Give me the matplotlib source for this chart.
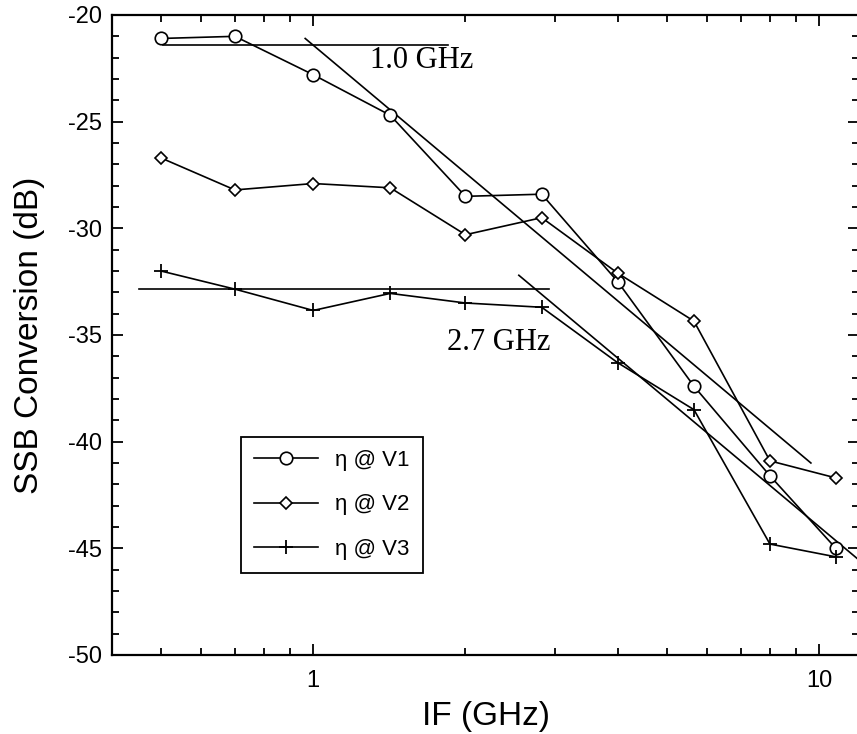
import numpy as np
import matplotlib
matplotlib.use("Agg")
import matplotlib.pyplot as plt
from matplotlib.ticker import FixedLocator, NullFormatter, FixedFormatter

plt.rcParams["axes.unicode_minus"] = False

# IF frequencies (GHz)
freq = [0.5, 0.7, 1.0, 1.42, 2.0, 2.83, 4.0, 5.66, 8.0, 10.8]

# SSB conversion (dB)
eta_v1 = [-21.1, -21.0, -22.8, -24.7, -28.5, -28.4, -32.5, -37.4, -41.6, -45.0]
eta_v2 = [-26.7, -28.2, -27.9, -28.1, -30.3, -29.5, -32.1, -34.35, -40.9, -41.7]
eta_v3 = [-32.0, -32.85, -33.85, -33.05, -33.5, -33.7, -36.3, -38.5, -44.8, -45.4]

series_labels = ["η @ V1", "η @ V2", "η @ V3"]

# roll-off guide lines (start/end points)
flat_1g_x = [0.505, 1.85]
flat_1g_y = [-21.4, -21.4]
slope_1g_x = [0.964, 9.64]
slope_1g_y = [-21.1, -41.0]
flat_27g_x = [0.452, 2.92]
flat_27g_y = [-32.85, -32.85]
slope_27g_x = [2.55, 12.5]
slope_27g_y = [-32.2, -45.9]

x_major = [1, 10]
x_major_labels = ["1", "10"]
x_minor = [0.5, 0.6, 0.7, 0.8, 0.9, 2, 3, 4, 5, 6, 7, 8, 9]

fig = plt.figure(figsize=(8.57, 7.34), dpi=100)
ax = fig.add_axes([112 / 857, 1 - 655 / 734, 747 / 857, 640 / 734])

ax.set_xscale("log")
ax.set_xlim(0.4, 12)
ax.set_ylim(-50, -20)

lw = 1.2
ax.plot(freq, eta_v1, color="black", lw=lw, marker="o", ms=9, mfc="white", mec="black", mew=1.2,
        label=series_labels[0], zorder=3)
ax.plot(freq, eta_v2, color="black", lw=lw, marker="D", ms=6.5, mfc="white", mec="black", mew=1.2,
        label=series_labels[1], zorder=3)
ax.plot(freq, eta_v3, color="black", lw=lw, marker="+", ms=10, mec="black", mew=1.3,
        label=series_labels[2], zorder=3)

for gx, gy in [(flat_1g_x, flat_1g_y), (slope_1g_x, slope_1g_y),
               (flat_27g_x, flat_27g_y), (slope_27g_x, slope_27g_y)]:
    ax.plot(gx, gy, color="black", lw=lw, zorder=2)

# annotation positions in pixels from the top-left corner
ax.text(370, 734 - 60, "1.0 GHz", transform=None, fontsize=22, family="Liberation Serif",
        va="center", ha="left")
ax.text(447, 734 - 343, "2.7 GHz", transform=None, fontsize=22, family="Liberation Serif",
        va="center", ha="left")

ax.xaxis.set_major_locator(FixedLocator(x_major))
ax.xaxis.set_major_formatter(FixedFormatter(x_major_labels))
ax.xaxis.set_minor_locator(FixedLocator(x_minor))
ax.xaxis.set_minor_formatter(NullFormatter())
ax.set_yticks(np.arange(-50, -19, 5))
ax.set_yticks(np.arange(-50, -19, 1), minor=True)

ax.tick_params(which="both", direction="in", top=True, right=True, width=1.3, colors="black")
ax.tick_params(which="major", length=8)
ax.tick_params(which="minor", length=5)
ax.tick_params(axis="y", which="major", labelsize=17, pad=7)
ax.tick_params(axis="x", which="major", labelsize=17, pad=11)
for lab in ax.get_xticklabels() + ax.get_yticklabels():
    lab.set_family("Liberation Sans")

for sp in ax.spines.values():
    sp.set_linewidth(1.6)

ax.set_xlabel("IF (GHz)", fontsize=24, family="Liberation Sans", labelpad=6)
ax.set_ylabel("SSB Conversion (dB)", fontsize=24, family="Liberation Sans", labelpad=17)

leg = ax.legend(loc="lower left", bbox_to_anchor=(0.1727, 0.128), borderaxespad=0,
                fancybox=False, framealpha=1, edgecolor="black", handlelength=2.85,
                labelspacing=1.05, borderpad=0.6, handletextpad=0.8,
                prop={"family": "Liberation Sans", "size": 16})
leg.get_frame().set_linewidth(1.3)

fig.savefig("out.png", dpi=100)
